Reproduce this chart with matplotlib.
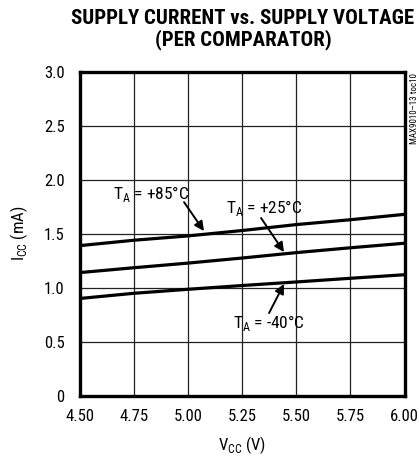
import matplotlib
matplotlib.use("Agg")
import matplotlib.pyplot as plt

plt.rcParams['font.family'] = ['Roboto Condensed', 'DejaVu Sans']
plt.rcParams['mathtext.fontset'] = 'custom'
plt.rcParams['mathtext.rm'] = 'Roboto Condensed'

vcc = [4.50, 4.75, 5.00, 5.25, 5.50, 5.75, 6.00]
icc_85 = [1.39, 1.44, 1.48, 1.53, 1.585, 1.63, 1.68]
icc_25 = [1.14, 1.185, 1.228, 1.275, 1.325, 1.37, 1.412]
icc_m40 = [0.90, 0.948, 0.985, 1.02, 1.053, 1.087, 1.12]

xticks = [4.50, 4.75, 5.00, 5.25, 5.50, 5.75, 6.00]
xticklabels = ["4.50", "4.75", "5.00", "5.25", "5.50", "5.75", "6.00"]
yticks = [0, 0.5, 1.0, 1.5, 2.0, 2.5, 3.0]
yticklabels = ["0", "0.5", "1.0", "1.5", "2.0", "2.5", "3.0"]

W, H = 419, 458
fig = plt.figure(figsize=(W/100, H/100), dpi=100)
x0, x1, y0, y1 = 80, 404.5, 72, 395.5
ax = fig.add_axes([x0/W, 1-y1/H, (x1-x0)/W, (y1-y0)/H])

for y in [icc_85, icc_25, icc_m40]:
    ax.plot(vcc, y, color='black', lw=2.3, solid_capstyle='butt', zorder=3)

ax.set_xlim(4.5, 6.0)
ax.set_ylim(0, 3.0)
ax.set_xticks(xticks)
ax.set_xticklabels(xticklabels)
ax.set_yticks(yticks)
ax.set_yticklabels(yticklabels)
ax.grid(True, color='#222222', lw=0.9)
ax.tick_params(length=0, labelsize=12)
ax.tick_params(axis='x', pad=10)
ax.tick_params(axis='y', pad=11)
for s in ax.spines.values():
    s.set_linewidth(2.4)

ax.set_xlabel(r"V$_{\mathregular{CC}}$ (V)", fontsize=12, labelpad=7)
ax.set_ylabel(r"I$_{\mathregular{CC}}$ (mA)", fontsize=12, labelpad=10)

fig.text(243/W, 1-9/H, "SUPPLY CURRENT vs. SUPPLY VOLTAGE\n(PER COMPARATOR)",
         ha='center', va='top', fontsize=15, fontweight='bold', linespacing=1.1)

fig.text(414/W, 1-73/H, "MAX9010\u201313 toc10", rotation=90, ha='center', va='top', fontsize=6.5)

arrow = dict(arrowstyle='-|>', color='black', lw=1.4, mutation_scale=14, shrinkA=0, shrinkB=0)
ax.text(4.653, 1.822, r"T$_{\mathregular{A}}$ = +85°C", fontsize=12.5, ha='left', va='baseline')
ax.annotate("", xy=(5.073, 1.525), xytext=(4.981, 1.793), arrowprops=arrow)
ax.text(5.175, 1.692, r"T$_{\mathregular{A}}$ = +25°C", fontsize=12.5, ha='left', va='baseline')
ax.annotate("", xy=(5.443, 1.33), xytext=(5.337, 1.646), arrowprops=arrow)
ax.text(5.207, 0.626, r"T$_{\mathregular{A}}$ = -40°C", fontsize=12.5, ha='left', va='baseline')
ax.annotate("", xy=(5.443, 1.034), xytext=(5.374, 0.765), arrowprops=arrow)

fig.savefig("out.png", dpi=100)
